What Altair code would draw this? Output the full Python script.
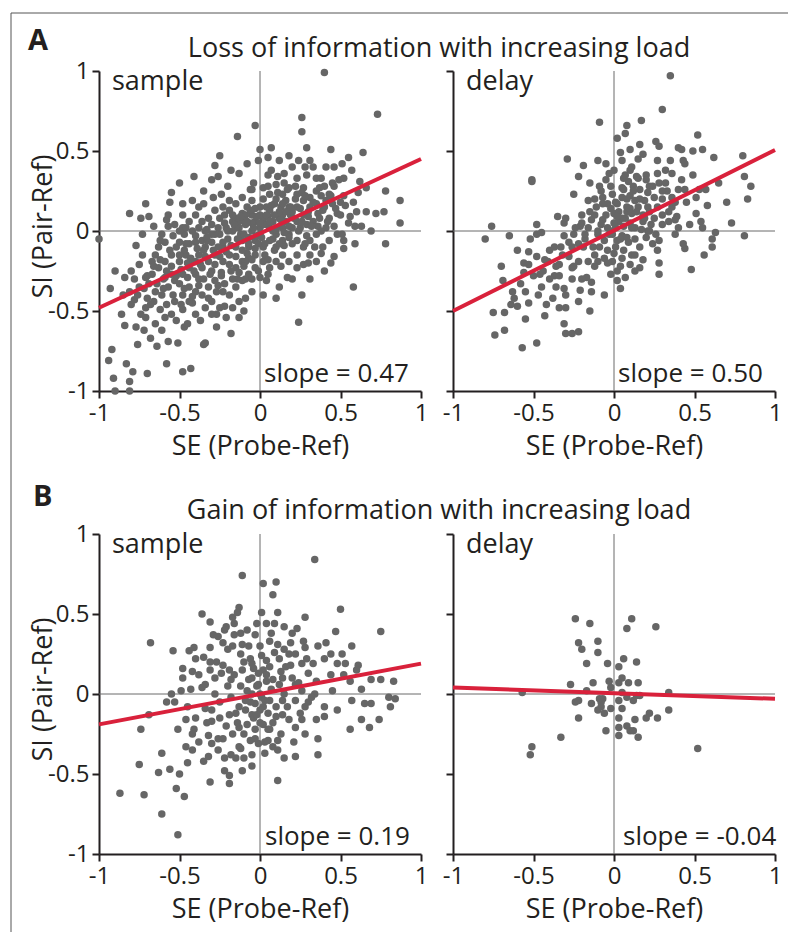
import altair as alt
import pandas as pd

FONT = "Open Sans"
TICKS = [-1, -0.5, 0, 0.5, 1]

# ---------------- data ----------------
A_SAMPLE = [
    (0.40, 0.99), (0.73, 0.73), (0.26, 0.71), (0.26, 0.62), (-0.03, 0.66), (-0.14, 0.59), (0.00, 0.51), (0.07, 0.52),
    (0.18, 0.47), (0.29, 0.52), (0.44, 0.51), (0.64, 0.49), (0.55, 0.46), (-0.25, 0.47), (-0.28, 0.41), (-0.41, 0.34),
    (-0.26, 0.34), (-0.55, 0.24), (-0.71, 0.17), (-0.81, 0.11), (-0.74, 0.08), (-1.0, -0.05), (-0.90, -0.25), (-0.93, -0.36),
    (-0.86, -0.52), (-0.92, -0.74), (-0.94, -0.81), (-0.91, -0.92), (-0.90, -1.0), (-0.81, -1.0), (-0.81, -0.94), (-0.79, -0.88),
    (-0.83, -0.83), (-0.70, -0.89), (-0.58, -0.83), (-0.48, -0.88), (-0.43, -0.86), (-0.35, -0.71), (-0.18, -0.64), (-0.21, -0.54),
    (-0.13, -0.54), (0.10, -0.42), (0.24, -0.57), (0.58, -0.35), (0.78, -0.08), (0.87, 0.05), (0.87, 0.19), (0.78, 0.25),
    (0.77, 0.12), (0.72, 0.11), (0.69, 0.00), (0.63, 0.03), (0.59, 0.03), (0.59, -0.08), (0.52, -0.06), (0.52, -0.11),
    (0.46, -0.16), (0.40, -0.25), (0.31, -0.30), (0.23, -0.23), (0.17, -0.29), (0.66, 0.27), (0.62, 0.31), (0.61, 0.24),
    (0.58, 0.18), (0.52, 0.22), (0.52, 0.33), (0.46, 0.28), (0.51, 0.42), (0.41, 0.40), (0.46, 0.40), (0.31, 0.44),
    (0.24, 0.44), (0.12, 0.44), (0.11, 0.34), (0.05, 0.35), (-0.01, 0.44), (-0.05, 0.26), (-0.13, 0.36), (-0.06, 0.26),
    (-0.24, 0.23), (-0.29, 0.21), (-0.35, 0.17), (-0.48, 0.17), (-0.56, 0.18), (-0.50, 0.30), (-0.69, 0.09), (-0.66, 0.03),
    (-0.58, 0.07), (-0.57, 0.03), (-0.73, -0.02), (-0.77, -0.09), (-0.73, -0.15), (-0.80, -0.25), (-0.81, -0.38), (-0.78, -0.43),
    (-0.71, -0.48), (-0.71, -0.54), (-0.84, -0.59), (-0.77, -0.60), (-0.72, -0.62), (-0.76, -0.71), (-0.68, -0.67), (-0.64, -0.72),
    (-0.59, -0.54), (-0.58, -0.46), (-0.52, -0.56), (-0.47, -0.60), (-0.48, -0.49), (-0.57, -0.69), (-0.51, -0.70), (-0.40, -0.52),
    (-0.34, -0.48), (-0.42, -0.45), (-0.34, -0.70), (-0.27, -0.52),
    (-0.61, -0.02), (-0.59, -0.07), (-0.54, -0.03), (-0.50, -0.07), (-0.47, -0.02), (-0.44, -0.08), (-0.40, -0.03), (-0.36, -0.06),
    (-0.33, 0.01), (-0.30, 0.04), (-0.25, 0.08), (-0.22, 0.10), (-0.19, 0.13), (-0.17, 0.06), (-0.15, 0.08), (-0.11, 0.11),
    (-0.08, 0.15), (-0.05, 0.10), (-0.03, 0.06), (0.02, 0.08), (0.06, 0.13), (0.09, 0.17), (0.13, 0.15), (0.16, 0.19),
    (0.19, 0.10), (0.23, 0.06), (0.27, 0.10), (0.31, 0.15), (0.35, 0.17), (0.39, 0.13), (0.43, 0.08), (0.48, 0.11),
    (0.41, 0.02), (0.35, -0.02), (0.31, -0.06), (0.27, -0.10), (0.23, -0.06), (0.18, -0.02), (0.14, 0.02), (0.10, -0.02),
    (0.06, -0.06), (0.02, -0.10), (-0.03, -0.06), (-0.07, -0.10), (-0.11, -0.06), (-0.15, -0.10), (-0.19, -0.15), (-0.23, -0.19),
    (-0.28, -0.15), (-0.32, -0.19), (-0.36, -0.23), (-0.40, -0.27), (-0.44, -0.23), (-0.48, -0.27), (-0.53, -0.31), (-0.57, -0.35),
    (-0.61, -0.40), (-0.65, -0.38), (-0.69, -0.33), (-0.67, -0.27), (-0.63, -0.23), (-0.59, -0.19), (-0.55, -0.15), (-0.50, -0.19),
    (-0.46, -0.15), (-0.42, -0.19), (-0.38, -0.15), (-0.34, -0.10), (-0.30, -0.07), (-0.25, -0.02), (-0.21, 0.02), (-0.17, 0.00),
    (-0.13, 0.02), (-0.09, 0.04), (-0.05, 0.00), (0.00, 0.02), (0.04, 0.04), (0.08, 0.06), (0.12, 0.08), (0.16, 0.06),
    (0.20, 0.02), (0.25, 0.02), (0.29, 0.04), (0.33, 0.06), (0.37, 0.08), (0.41, 0.19), (0.45, 0.17), (0.50, 0.10),
    (0.39, -0.10), (0.43, -0.06), (0.48, -0.02), (0.31, -0.15), (0.35, -0.19), (0.14, -0.15), (0.10, -0.19), (0.06, -0.23),
    (0.02, -0.19), (-0.03, -0.23), (-0.07, -0.27), (-0.11, -0.31), (-0.15, -0.35), (-0.19, -0.40), (-0.23, -0.38), (-0.28, -0.31),
    (-0.32, -0.35), (-0.36, -0.40), (-0.40, -0.38), (-0.44, -0.35), (-0.48, -0.40), (-0.53, -0.44), (-0.15, -0.23), (-0.11, -0.19),
    (-0.07, -0.17), (-0.03, -0.15), (0.10, -0.10), (0.14, -0.06), (0.18, -0.19), (0.23, -0.15), (0.27, -0.21), (0.04, -0.31),
    (0.00, -0.29), (-0.05, -0.38), (-0.09, -0.42), (-0.13, -0.44), (-0.17, -0.48), (-0.30, -0.44), (-0.25, -0.48), (-0.40, -0.19),
    (-0.55, -0.27), (-0.63, -0.10), (-0.67, -0.19), (-0.75, -0.21), (-0.71, -0.29), (-0.75, -0.35), (-0.84, -0.29), (-0.59, -0.29),
    (-0.62, -0.49), (-0.66, -0.44), (0.14, 0.23), (0.18, 0.27), (0.23, 0.23), (0.27, 0.27), (0.06, 0.23), (0.02, 0.27),
    (0.10, 0.29), (0.23, 0.33), (0.29, 0.35), (0.35, 0.33), (0.35, 0.25), (0.43, 0.23), (-0.05, 0.19), (-0.11, 0.21),
    (-0.15, 0.17), (-0.19, 0.19), (-0.23, 0.15), (-0.28, 0.13), (-0.32, 0.08), (-0.36, 0.06), (-0.40, 0.10), (-0.44, 0.06),
    (-0.48, 0.02), (-0.53, 0.04), (-0.42, 0.19), (-0.38, 0.15), (-0.48, 0.10), (-0.57, 0.10), (-0.28, -0.02), (-0.23, -0.10),
    (-0.09, -0.19), (0.23, 0.15), (0.27, 0.19), (0.31, 0.21), (0.14, 0.10), (0.18, 0.15), (0.04, 0.15), (0.00, 0.15),
    (-0.09, 0.10), (-0.13, 0.06), (-0.17, 0.10), (-0.34, 0.00), (-0.38, 0.02), (-0.42, 0.00), (-0.46, 0.02), (-0.50, 0.00),
    (-0.05, 0.05), (0.05, 0.09), (-0.02, -0.03), (0.08, 0.00), (0.12, 0.12), (-0.12, -0.02), (-0.08, -0.14), (0.03, -0.15),
    (-0.20, -0.05), (-0.26, -0.10), (-0.18, -0.25), (-0.30, -0.25), (-0.35, -0.12), (-0.22, 0.05), (-0.10, 0.07), (0.00, 0.10),
    (0.10, 0.20), (0.20, 0.12), (0.18, -0.04), (0.30, 0.09), (0.26, 0.24), (0.38, 0.22), (0.45, 0.30), (0.36, 0.03),
    (0.28, -0.08), (0.13, -0.22), (-0.01, -0.08), (-0.14, -0.30), (-0.26, -0.34), (-0.38, -0.30), (-0.45, -0.20), (-0.50, -0.33),
    (-0.55, -0.22), (-0.60, -0.30), (-0.44, -0.44), (-0.62, -0.06), (-0.52, -0.10), (-0.40, -0.07), (-0.30, -0.02), (-0.15, 0.02),
    (0.06, 0.02), (0.15, -0.09), (0.22, 0.20), (0.05, 0.28), (-0.04, 0.30), (-0.20, 0.28), (0.00, -0.02), (0.02, 0.04),
    (-0.03, 0.14), (0.09, -0.12), (-0.07, -0.04), (-0.24, -0.28), (-0.33, -0.06), (-0.47, -0.12), (0.40, 0.28), (0.50, 0.18),
    (0.55, 0.05), (0.33, 0.40), (0.20, 0.40), (-0.10, -0.22), (-0.65, -0.15), (-0.70, -0.42), (-0.78, -0.30), (-0.45, -0.58),
    (-0.27, -0.60), (-0.10, -0.50), (0.02, -0.40), (0.07, 0.38), (0.15, 0.30),
    (-0.70, -0.28), (-0.68, -0.46), (-0.66, -0.22), (-0.64, -0.33), (-0.62, -0.18), (-0.60, -0.36), (-0.58, -0.25), (-0.56, -0.12),
    (-0.54, -0.40), (-0.52, -0.28), (-0.50, -0.15), (-0.49, -0.24), (-0.47, -0.36), (-0.46, -0.08), (-0.45, -0.29), (-0.43, -0.17),
    (-0.42, -0.41), (-0.41, -0.25), (-0.39, -0.11), (-0.38, -0.34), (-0.37, -0.21), (-0.35, -0.30), (-0.34, -0.16), (-0.33, -0.04),
    (-0.32, -0.42), (-0.31, -0.27), (-0.29, -0.12), (-0.28, -0.21), (-0.27, -0.38), (-0.26, 0.02), (-0.25, -0.16), (-0.24, -0.26),
    (-0.23, -0.07), (-0.22, -0.33), (-0.21, -0.13), (-0.20, 0.00), (-0.19, -0.21), (-0.18, -0.09), (-0.17, -0.30), (-0.16, 0.04),
    (-0.15, -0.16), (-0.14, -0.05), (-0.13, -0.26), (-0.12, 0.09), (-0.11, -0.12), (-0.10, -0.02), (-0.09, -0.30), (-0.08, 0.06),
    (-0.07, -0.08), (-0.06, 0.13), (-0.05, -0.18), (-0.04, 0.02), (-0.03, -0.11), (-0.02, 0.09), (-0.01, -0.25), (0.00, 0.05),
    (0.01, -0.04), (0.02, 0.20), (0.03, -0.08), (0.04, 0.10), (0.05, -0.18), (0.06, 0.06), (0.07, 0.16), (0.08, -0.05),
    (0.09, 0.10), (0.10, 0.01), (0.11, 0.24), (0.12, -0.08), (0.13, 0.07), (0.14, 0.17), (0.15, -0.01), (0.16, 0.12),
    (0.17, 0.26), (0.18, 0.03), (0.19, 0.15), (0.20, -0.08), (0.21, 0.08), (0.22, 0.28), (0.24, 0.00), (0.25, 0.14),
    (0.26, 0.06), (0.28, 0.22), (0.29, -0.03), (0.30, 0.12), (0.32, 0.03), (0.33, 0.18), (0.34, -0.10), (0.36, 0.11),
    (0.37, 0.27), (0.38, 0.00), (0.40, 0.15), (0.42, 0.06), (0.44, 0.22), (0.46, 0.03), (0.47, 0.14), (0.49, 0.32),
    (0.51, -0.02), (0.53, 0.16), (0.56, 0.09), (0.60, 0.12), (-0.76, -0.40), (-0.74, -0.52), (-0.72, -0.36), (-0.80, -0.46),
    (-0.85, -0.40), (-0.65, -0.58), (-0.61, -0.62), (-0.55, -0.52), (-0.49, -0.46), (-0.37, -0.56), (-0.30, -0.52), (-0.22, -0.47),
    (-0.05, -0.30), (0.05, -0.27), (0.12, -0.35), (0.20, -0.30), (0.30, -0.20), (0.38, -0.14), (0.44, -0.20), (0.26, -0.40),
    (-0.35, 0.25), (-0.30, 0.32), (-0.18, 0.38), (-0.08, 0.42), (0.05, 0.46), (0.15, 0.36), (0.28, 0.40), (0.38, 0.33),
    (0.57, 0.38), (0.66, 0.12),
]

A_DELAY = [
    (0.35, 0.97), (0.30, 0.76), (-0.09, 0.68), (0.08, 0.66), (0.07, 0.61), (0.17, 0.69), (0.52, 0.60), (0.16, 0.54),
    (0.28, 0.53), (0.10, 0.51), (0.04, 0.49), (0.40, 0.52), (0.42, 0.51), (0.49, 0.50), (0.55, 0.51), (0.62, 0.46),
    (0.80, 0.47), (0.81, 0.34), (0.85, 0.28), (0.83, 0.20), (0.73, 0.05), (0.81, -0.03), (0.63, -0.01), (0.61, -0.05),
    (0.61, -0.10), (0.56, -0.15), (0.48, -0.24), (0.44, -0.11), (0.43, -0.08), (0.38, -0.02), (0.40, 0.02), (0.39, 0.09),
    (0.45, 0.18), (0.51, 0.21), (0.51, 0.11), (0.54, 0.06), (0.55, 0.02), (0.57, 0.26), (0.53, 0.26), (0.43, 0.44),
    (0.44, 0.42), (0.35, 0.44), (0.27, 0.44), (0.27, 0.36), (0.28, 0.30), (0.24, 0.28), (0.32, 0.30), (0.40, 0.26),
    (0.36, 0.21), (0.36, 0.15), (0.30, 0.10), (0.25, 0.08), (0.23, 0.04), (0.30, 0.04), (0.34, 0.06), (0.38, 0.07),
    (0.28, -0.06), (0.27, -0.12), (0.28, -0.20), (0.28, -0.27), (0.20, -0.04), (0.16, -0.10), (0.16, -0.23), (0.13, -0.25),
    (0.10, -0.21), (0.07, -0.29), (0.04, -0.36), (0.02, -0.31), (-0.02, -0.27), (-0.06, -0.40), (-0.15, -0.50), (-0.14, -0.32),
    (-0.17, -0.29), (-0.21, -0.37), (-0.22, -0.44), (-0.22, -0.63), (-0.26, -0.64), (-0.30, -0.64), (-0.31, -0.58), (-0.30, -0.48),
    (-0.34, -0.48), (-0.42, -0.46), (-0.43, -0.53), (-0.48, -0.70), (-0.57, -0.73), (-0.68, -0.62), (-0.74, -0.65), (-0.75, -0.51),
    (-0.68, -0.51), (-0.60, -0.47), (-0.55, -0.55), (-0.53, -0.45), (-0.55, -0.38), (-0.63, -0.38), (-0.69, -0.31), (-0.56, -0.26),
    (-0.53, -0.21), (-0.48, -0.16), (-0.53, -0.13), (-0.46, -0.27), (-0.37, -0.28), (-0.36, -0.35), (-0.31, -0.36), (-0.34, -0.21),
    (-0.32, -0.15), (-0.40, -0.12), (-0.31, -0.03), (-0.25, -0.02), (-0.21, 0.03), (-0.20, 0.05), (-0.31, 0.05), (-0.35, 0.09),
    (-0.48, 0.04), (-0.48, -0.02), (-0.45, -0.01), (-0.65, -0.03), (-0.76, 0.03), (-0.80, -0.05), (-0.51, 0.32), (-0.51, 0.31),
    (-0.29, 0.45), (-0.22, 0.34), (-0.25, 0.23), (-0.10, 0.44), (-0.05, 0.42), (-0.05, 0.32), (-0.09, 0.28), (-0.07, 0.21),
    (-0.11, 0.15), (-0.12, 0.10), (-0.14, 0.07), (-0.07, 0.07), (-0.04, 0.02), (-0.01, -0.02), (-0.06, -0.06), (-0.09, -0.10),
    (-0.12, -0.15), (-0.16, -0.19), (-0.19, -0.10), (-0.18, -0.05), (-0.10, -0.02), (-0.10, -0.19), (-0.06, -0.17), (-0.01, -0.19),
    (0.01, -0.10), (0.02, -0.06), (0.05, -0.03), (0.09, -0.07), (0.11, -0.15), (0.05, -0.17), (0.01, 0.02), (0.03, 0.06),
    (0.07, 0.08), (0.11, 0.11), (0.15, 0.15), (0.19, 0.19), (0.21, 0.24), (0.16, 0.26), (0.12, 0.28), (0.09, 0.31),
    (0.06, 0.33), (0.05, 0.27), (0.10, 0.22), (0.05, 0.21), (0.02, 0.17), (0.00, 0.11), (-0.01, 0.23), (0.08, 0.15),
    (0.13, 0.02), (0.18, 0.06), (0.17, 0.01), (0.21, 0.00), (0.11, 0.40), (0.07, 0.35), (0.15, 0.33), (0.20, 0.35),
    (0.25, 0.21), (0.21, 0.15), (0.13, 0.19), (-0.04, 0.17), (-0.16, 0.19), (-0.20, 0.10), (-0.24, 0.02), (-0.28, -0.07),
    (-0.22, -0.19), (-0.26, -0.23), (-0.37, -0.10), (-0.41, -0.19), (-0.44, -0.25),
    (0.00, 0.05), (0.03, 0.12), (-0.03, -0.02), (0.06, 0.03), (-0.08, 0.04), (0.10, 0.05), (0.14, 0.12), (0.18, 0.10),
    (0.08, 0.20), (-0.02, 0.28), (-0.04, -0.12), (-0.13, -0.10), (-0.16, 0.02), (-0.26, -0.10), (-0.34, -0.28), (-0.40, -0.30),
    (-0.45, -0.35), (-0.20, -0.30), (-0.12, -0.22), (0.06, -0.12), (0.13, -0.05), (0.22, 0.12), (0.30, 0.20), (0.33, 0.25),
    (0.44, 0.26), (0.20, 0.32), (0.10, 0.38), (-0.02, 0.14), (0.05, 0.08), (-0.07, 0.17), (-0.58, -0.33), (-0.62, -0.42),
    (0.02, -0.25), (-0.25, -0.22), (0.26, -0.02), (-0.30, 0.08), (0.36, 0.36), (0.15, 0.45), (-0.15, 0.30), (0.00, 0.38),
    (-0.02, 0.00), (0.02, 0.09), (0.04, -0.05), (-0.05, 0.10), (0.08, 0.12), (0.11, 0.02), (0.12, 0.25), (0.16, 0.20),
    (0.19, 0.08), (0.22, 0.28), (0.24, -0.08), (0.27, 0.15), (0.30, 0.25), (0.32, 0.38), (0.34, 0.12), (0.38, 0.18),
    (0.42, 0.32), (0.47, 0.04), (0.49, 0.35), (0.58, 0.16), (0.65, 0.30), (0.70, 0.18), (0.05, 0.44), (-0.03, 0.36),
    (-0.08, 0.25), (-0.12, 0.20), (-0.15, 0.12), (-0.18, -0.02), (-0.22, -0.08), (-0.26, -0.30), (-0.28, -0.16), (-0.30, -0.40),
    (-0.33, -0.10), (-0.36, -0.22), (-0.38, -0.42), (-0.43, -0.18), (-0.47, -0.40), (-0.50, -0.28), (-0.52, -0.05), (-0.56, -0.20),
    (-0.60, -0.12), (-0.64, -0.46), (-0.70, -0.22), (-0.04, -0.20), (0.00, -0.14), (0.04, -0.22), (0.08, -0.04), (0.13, -0.15),
    (0.18, -0.18), (0.22, 0.00), (-0.10, 0.00), (-0.14, -0.38), (0.01, 0.18), (0.06, 0.26), (0.10, 0.14), (0.14, 0.34),
    (0.18, 0.48), (0.26, 0.56), (0.02, 0.58), (-0.19, 0.41),
]

B_SAMPLE = [
    (0.34, 0.84), (-0.11, 0.74), (0.02, 0.69), (0.10, 0.70), (0.08, 0.62), (-0.13, 0.54), (-0.14, 0.51), (0.50, 0.53),
    (0.11, 0.51), (0.01, 0.51), (0.28, 0.48), (-0.36, 0.50), (-0.31, 0.45), (-0.17, 0.48), (-0.21, 0.42), (-0.22, 0.40),
    (-0.02, 0.44), (0.04, 0.44), (0.09, 0.44), (0.15, 0.42), (0.23, 0.41), (0.75, 0.39), (0.47, 0.39), (-0.29, 0.37),
    (-0.16, 0.37), (-0.12, 0.38), (-0.03, 0.37), (0.07, 0.38), (-0.68, 0.32), (-0.54, 0.27), (-0.44, 0.27), (-0.41, 0.29),
    (-0.31, 0.29), (-0.23, 0.32), (-0.17, 0.30), (-0.11, 0.31), (0.11, 0.31), (0.15, 0.28), (0.22, 0.25), (0.28, 0.29),
    (0.36, 0.30), (0.41, 0.32), (0.44, 0.25), (0.51, 0.25), (0.57, 0.30), (-0.40, 0.22), (-0.35, 0.23), (-0.27, 0.20),
    (-0.19, 0.15), (-0.11, 0.15), (-0.05, 0.19), (0.04, 0.21), (0.06, 0.17), (0.13, 0.14), (0.19, 0.18), (0.26, 0.19),
    (0.33, 0.19), (0.48, 0.19), (0.53, 0.19), (0.61, 0.18), (0.60, 0.15), (-0.48, 0.10), (-0.38, 0.12), (-0.34, 0.06),
    (-0.31, 0.15), (-0.24, 0.13), (-0.18, 0.09), (-0.07, 0.09), (-0.01, 0.13), (0.08, 0.09), (0.14, 0.10), (0.30, 0.13),
    (0.44, 0.12), (0.56, 0.08), (0.69, 0.09), (0.75, 0.09), (0.83, 0.08), (0.63, 0.03), (0.80, -0.02), (0.84, -0.03),
    (0.81, -0.08), (0.69, -0.06), (0.65, -0.06), (0.57, -0.04), (-0.55, 0.00), (-0.49, 0.02), (-0.43, 0.03), (-0.53, -0.05),
    (-0.58, -0.05), (-0.69, -0.13), (-0.74, -0.22), (-0.51, -0.22), (-0.46, -0.16), (-0.41, -0.22), (-0.40, -0.15), (-0.34, -0.09),
    (-0.30, -0.17), (-0.25, -0.15), (-0.19, -0.13), (-0.13, -0.08), (-0.09, -0.04), (-0.05, 0.00), (-0.03, -0.06), (-0.05, -0.13),
    (-0.08, -0.19), (-0.13, -0.21), (-0.17, -0.25), (-0.23, -0.28), (-0.30, -0.31), (-0.32, -0.26), (-0.26, -0.35), (-0.22, -0.40),
    (-0.18, -0.38), (-0.13, -0.33), (-0.10, -0.40), (-0.11, -0.48), (-0.19, -0.51), (-0.19, -0.56), (-0.31, -0.55), (-0.32, -0.39),
    (-0.05, -0.38), (-0.06, -0.29), (-0.01, -0.31), (0.05, -0.29), (0.06, -0.22), (0.02, -0.19), (0.11, -0.29), (0.11, -0.35),
    (0.11, -0.54), (0.22, -0.39), (0.36, -0.38), (0.36, -0.28), (0.28, -0.25), (0.22, -0.21), (0.18, -0.16), (0.14, -0.13),
    (0.10, -0.08), (0.06, -0.04), (0.01, -0.02), (0.14, -0.04), (0.22, -0.04), (0.28, -0.08), (0.35, -0.16), (0.40, -0.08),
    (0.40, -0.14), (0.56, -0.22), (0.63, -0.16), (0.68, -0.21), (0.74, -0.16), (0.22, 0.06), (0.26, 0.02), (0.34, 0.00),
    (-0.75, -0.44), (-0.87, -0.62), (-0.72, -0.63), (-0.61, -0.75), (-0.51, -0.88), (-0.47, -0.64), (-0.52, -0.59), (-0.50, -0.50),
    (-0.56, -0.47), (-0.63, -0.49), (-0.61, -0.37), (-0.46, -0.33), (-0.45, -0.43), (-0.42, -0.35),
    (-0.02, 0.05), (0.02, -0.08), (-0.04, -0.15), (0.04, 0.08), (-0.08, 0.02), (0.00, -0.10), (-0.06, 0.22), (0.00, 0.30),
    (-0.12, 0.25), (-0.20, 0.05), (-0.25, -0.05), (0.15, 0.00), (0.20, 0.10), (0.05, -0.12), (-0.10, -0.25), (0.08, -0.18),
    (-0.15, -0.12), (0.02, 0.15), (-0.03, -0.22), (0.12, 0.22), (-0.28, 0.10), (0.30, -0.05), (0.25, -0.12), (-0.20, 0.28),
    (-0.30, -0.10), (0.00, 0.00), (-0.05, 0.10), (0.03, -0.30), (-0.15, -0.40), (0.18, 0.25),
    (-0.18, -0.02), (-0.16, 0.12), (-0.14, -0.18), (-0.12, 0.05), (-0.10, 0.20), (-0.09, -0.10), (-0.07, 0.30), (-0.06, -0.05),
    (-0.04, 0.16), (-0.03, -0.28), (-0.01, 0.06), (0.00, -0.18), (0.01, 0.24), (0.03, -0.04), (0.04, 0.12), (0.05, -0.22),
    (0.07, 0.03), (0.09, 0.26), (0.10, -0.14), (0.12, 0.06), (0.13, -0.25), (0.16, 0.17), (0.17, -0.08), (0.19, 0.32),
    (0.21, -0.30), (0.24, 0.07), (0.26, -0.16), (0.29, 0.22), (0.32, -0.02), (0.35, 0.08), (-0.21, -0.20), (-0.23, 0.18),
    (-0.26, -0.28), (-0.28, 0.00), (-0.31, 0.20), (-0.33, -0.18), (-0.36, 0.04), (-0.38, -0.30), (-0.42, 0.14), (-0.45, -0.08),
    (-0.08, 0.40), (0.06, 0.33), (-0.16, 0.44), (0.20, 0.38), (-0.26, 0.36), (0.15, -0.40), (-0.05, -0.45), (-0.22, -0.48),
    (0.03, -0.37), (0.45, 0.02), (0.48, -0.10), (0.52, 0.12), (-0.35, -0.42), (-0.42, -0.25), (-0.02, -0.13), (0.08, -0.33),
    (-0.12, -0.34), (0.27, 0.33), (-0.48, 0.16), (0.40, 0.22),
]

B_DELAY = [
    (-0.24, 0.47), (-0.15, 0.44), (0.11, 0.47), (0.08, 0.41), (0.26, 0.42), (-0.22, 0.32), (-0.10, 0.33), (-0.20, 0.28),
    (-0.10, 0.26), (-0.17, 0.19), (-0.04, 0.19), (0.06, 0.22), (0.14, 0.20), (0.03, 0.17), (-0.27, 0.06), (-0.13, 0.07),
    (-0.03, 0.08), (0.05, 0.10), (0.03, 0.07), (0.09, 0.07), (0.15, 0.07), (-0.02, 0.04), (-0.57, 0.01), (-0.17, 0.02),
    (0.05, 0.01), (0.14, -0.01), (0.16, -0.01), (0.34, 0.01), (0.08, -0.02), (-0.07, -0.03), (0.12, -0.04), (0.03, -0.04),
    (-0.24, -0.05), (-0.22, -0.04), (-0.14, -0.06), (-0.08, -0.05), (-0.08, -0.08), (-0.10, -0.10), (-0.06, -0.12), (-0.02, -0.09),
    (0.05, -0.09), (0.34, -0.10), (0.22, -0.12), (0.20, -0.15), (0.27, -0.15), (0.03, -0.15), (0.13, -0.16), (-0.22, -0.15),
    (-0.05, -0.23), (0.03, -0.21), (0.08, -0.20), (0.10, -0.23), (0.12, -0.23), (0.03, -0.26), (0.15, -0.27), (-0.33, -0.27),
    (-0.51, -0.33), (-0.52, -0.38), (0.52, -0.34), (-0.09, -0.03),
]

# fitted regression lines: y at x = -1 and x = 1
LINE_X = [-1, 1]
A_SAMPLE_LINE = [-0.48, 0.45]
A_DELAY_LINE = [-0.50, 0.506]
B_SAMPLE_LINE = [-0.19, 0.19]
B_DELAY_LINE = [0.04, -0.03]

ROW_TITLES = ["Loss of information with increasing load", "Gain of information with increasing load"]
PANEL_LABELS = ["A", "B"]
SLOPES = ["slope = 0.47", "slope = 0.50", "slope = 0.19", "slope = -0.04"]

# ---------------- styling ----------------
W, H = 322, 320
PT = "#666666"
RED = "#d9213b"
INK = "#231f20"

xscale = alt.Scale(domain=[-1, 1], nice=False, zero=False)
yscale = alt.Scale(domain=[-1, 1], nice=False, zero=False)


def x_enc(field):
    return alt.X(field + ":Q", scale=xscale,
                 axis=alt.Axis(values=TICKS, labelExpr="'' + datum.value", title="SE (Probe-Ref)",
                               titleY=63, titleBaseline="alphabetic", labelFlush=False,
                               labelPadding=3))


def y_enc(field, first):
    if first:
        ax = alt.Axis(values=TICKS, labelExpr="'' + datum.value", title="SI (Pair-Ref)",
                      titleX=-48, titleY=155, titleAngle=270, titleAlign="center",
                      titleBaseline="alphabetic", labelFlush=False, labelPadding=3)
    else:
        ax = alt.Axis(values=TICKS, labels=False, title=None)
    return alt.Y(field + ":Q", scale=yscale, axis=ax)


def txt(s, x, y, size, align="left", weight="normal"):
    return alt.Chart(pd.DataFrame({"t": [s]})).mark_text(
        text=s, align=align, baseline="alphabetic", fontSize=size, font=FONT,
        fontWeight=weight, color=INK
    ).encode(x=alt.value(x), y=alt.value(y))


def panel(points, line_y, name, slope, first, slope_dx, extras):
    df = pd.DataFrame(points, columns=["x", "y"])
    ldf = pd.DataFrame({"x": LINE_X, "y": line_y})
    vz = alt.Chart(pd.DataFrame({"x": [0]})).mark_rule(color="#6a6a6a", strokeWidth=1).encode(x=x_enc("x"))
    hz = alt.Chart(pd.DataFrame({"y": [0]})).mark_rule(color="#6a6a6a", strokeWidth=1).encode(y=y_enc("y", first))
    pts = alt.Chart(df).mark_circle(size=56, color=PT, opacity=1).encode(x=x_enc("x"), y=y_enc("y", first))
    ln = alt.Chart(ldf).mark_line(color=RED, strokeWidth=4).encode(x=x_enc("x"), y=y_enc("y", first))
    layers = [vz, hz, pts, ln,
              txt(name, 13, 19, 27),
              txt(slope, W / 2 + slope_dx, H - 9, 26)] + extras
    return alt.layer(*layers).properties(width=W, height=H)


frame_df = pd.DataFrame({"a": [0]})
frame_v = alt.Chart(frame_df).mark_rule(color="#555555", strokeWidth=1).encode(
    x=alt.value(-88), y=alt.value(-58), y2=alt.value(861))
frame_h = alt.Chart(frame_df).mark_rule(color="#555555", strokeWidth=1).encode(
    x=alt.value(-88), x2=alt.value(689), y=alt.value(-58))

a_s = panel(A_SAMPLE, A_SAMPLE_LINE, "sample", SLOPES[0], True, 4,
            [frame_v, frame_h,
             txt(PANEL_LABELS[0], -71, -21, 29, weight="bold"),
             txt(ROW_TITLES[0], 340, -14, 27, align="center")])
a_d = panel(A_DELAY, A_DELAY_LINE, "delay", SLOPES[1], False, 4, [])
b_s = panel(B_SAMPLE, B_SAMPLE_LINE, "sample", SLOPES[2], True, 5,
            [txt(PANEL_LABELS[1], -66, -28, 29, weight="bold"),
             txt(ROW_TITLES[1], 340, -15, 27, align="center")])
b_d = panel(B_DELAY, B_DELAY_LINE, "delay", SLOPES[3], False, 9, [])

chart = alt.concat(a_s, a_d, b_s, b_d, columns=2).properties(
    bounds="flush",
    spacing={"row": 143, "column": 32},
    padding={"left": 10, "top": 12, "right": 0, "bottom": 0},
    background="white",
).configure_view(stroke=None).configure_axis(
    grid=False, domainColor=INK, domainWidth=2, tickColor=INK, tickWidth=2, tickSize=7,
    labelFont=FONT, labelFontSize=24, labelColor=INK, labelOverlap=False,
    titleFont=FONT, titleFontSize=27, titleFontWeight="normal", titleColor=INK,
)

chart.save("out.html", embed_options={"renderer": "svg", "actions": False})
